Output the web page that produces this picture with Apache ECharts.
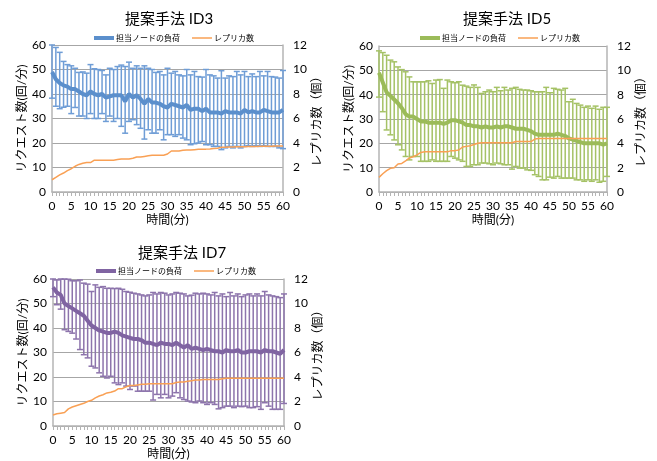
<!DOCTYPE html>
<html>
<head>
<meta charset="utf-8">
<script src="https://cdn.jsdelivr.net/npm/echarts@6/dist/echarts.min.js"></script>
<style>
    html, body { margin: 0; padding: 0; background: #fff; }
    #main { width: 657px; height: 461px; }
</style>
</head>
<body>
<div id="main"></div>
<script type="text/javascript">
    // 時間(分) 0..60
    var minutes = [];
    for (var m = 0; m <= 60; m++) minutes.push(m);

    // ID3
    var load3 = [49,46,44.5,43.5,43,42,42,41,40,39.5, 41,40,39.5,40,38.5,39,39.5,39.5,39.5,37, 40,38.5,39.5,38,36,38,36.5,36.5,36,35, 34.5,36,35.5,35,34.5,35.5,33.5,34,34,33, 34,32.5,32.5,32.5,32,33,32.5,32.5,32.5,32, 33.5,32.5,33,32.5,32.5,33.5,33,32.5,32.5,32.5, 33.5];
    var hi3 = [60,59,57,53.3,52,51.5,50.5,48.8,49,48.5, 52,50.3,50,49.6,47.8,50.5,50,51.2,51.8,51.2, 53,50.5,51.5,50.5,51.5,50.5,50,48.8,49.2,47.8, 50.5,48.5,49.2,47.8,47.4,50,47.8,49.2,47.1,46.9, 50,47.8,47.4,46.5,49.5,46.5,47.4,47.1,49.2,47.8, 49.2,47.1,48.2,47.1,49.2,47.4,49.2,47.1,46.9,46.5, 49.6];
    var lo3 = [38.3,35,34,34.6,35,32,34.5,31,31,30, 32,30,30,32,28.8,31,28.8,30,26.8,24, 28.8,29.5,27.5,26,21.6,25.4,24,24,25.4,21.3, 23.4,23.4,22.7,23.4,22,21.3,19.3,19.7,20,20.6, 19.3,19.3,18.6,18.6,17.3,18,18.6,18,18.6,18, 18.6,18.9,18.6,18.9,18.6,18.9,18.6,18.6,18.6,18, 17.7];
    var rep3 = [1.0,1.2,1.4,1.55,1.75,1.9,2.1,2.25,2.35,2.4, 2.4,2.6,2.6,2.6,2.6,2.6,2.6,2.65,2.7,2.7, 2.7,2.75,2.85,2.85,2.9,2.95,3.0,3.0,3.0,3.0, 3.1,3.35,3.35,3.35,3.4,3.42,3.42,3.45,3.48,3.5, 3.5,3.52,3.55,3.58,3.65,3.66,3.67,3.68,3.7,3.7, 3.7,3.72,3.72,3.72,3.73,3.73,3.74,3.74,3.75,3.75, 3.75];

    // ID5
    var load5 = [49,45,41,39.5,38,36.5,34.5,32,31,31, 30,29,29,28.5,28.5,28.5,28.5,28,28.5,29.5, 29.5,29,28.5,27.5,27.5,27,27,26.5,27,26.5, 26.5,27,26.5,27,27,26.5,26,26,26,25.5, 25,24,23.5,23.5,23.5,23.5,23.5,24,23.5,23, 22,21.5,21,20.5,20,20,20,20,20,19.5, 20];
    var hi5 = [58,57.3,56.2,54.2,53.5,51.4,50.3,49.4,47.3,45.3, 45.3,45.3,45.3,45.7,44.6,46,46.2,42.6,46,45.3, 44.9,45.3,43.9,43.5,43,44,43,40.5,41.2,41.9, 41.2,43,41.6,43,41.9,42.6,43,42.2,41.9,41.9, 41.6,41.2,41.2,41.2,43,40.8,42.6,42.2,41.9,42.6, 37.1,38.1,36.4,35.7,34.8,35.3,34.4,35.3,34,34.8, 34.8];
    var lo5 = [39,33,25.5,23.5,21.4,19.4,17.3,14.6,13.2,14.6, 14.6,12.6,12.6,12.6,13.2,12.6,12.6,12.6,12.6,14.6, 13.9,13.2,12.6,10.5,10.5,11.2,11.2,11.9,11.9,11.6, 11.2,11.9,11.6,11.2,11.2,9.4,10.5,9.8,9.8,9.1, 8.9,7.1,6.4,5,5,6.1,5.7,6.4,5.7,5.7, 5.7,5.7,5,5,4.4,5,4.4,5,4,4.4, 6.4];
    var rep5 = [1.2,1.5,1.75,1.95,2.0,2.3,2.35,2.55,2.8,2.9, 3.05,3.25,3.3,3.3,3.3,3.3,3.3,3.3,3.3,3.4, 3.4,3.45,3.7,3.75,3.8,3.9,4.0,4.05,4.05,4.05, 4.05,4.05,4.05,4.05,4.05,4.05,4.15,4.15,4.15,4.15, 4.15,4.35,4.4,4.4,4.4,4.4,4.4,4.4,4.4,4.4, 4.4,4.4,4.4,4.4,4.4,4.4,4.4,4.4,4.4,4.4, 4.4];

    // ID7
    var load7 = [56.6,54.5,53.5,50,49,48,47,46,45,43, 41,40,39,38.5,38,38,38.5,38,37,36.5, 36,35.5,35.5,35,34,34,33.5,33,34,33.5, 33.5,33,34,33,32,33,31.5,32,31.5,31, 31.5,31,30.5,30.5,30,31,30.5,30.5,31,30, 30,30.5,30.5,30.5,30,31,30.5,30.5,30,29.5, 31];
    var hi7 = [60,59.6,60,60,59.9,59.3,59.3,59.6,58.3,57.9, 54.9,57.6,56.6,56.9,56.2,56.2,56.1,56.2,55.8,54.9, 54.6,54.2,53.9,53.5,53.1,53.5,54.5,53.9,54.5,54.2, 53.5,53.9,54.5,54.2,53.9,53.1,53.4,54.2,53.9,54.2, 53.9,53.5,54.5,53.1,53.9,52.8,54.5,53.1,53.9,52.8, 53.5,53.9,53.1,53.9,53.1,54.9,53.5,53.1,52.8,52.4, 53.9];
    var lo7 = [52.8,49.5,47.7,39.3,38.6,37.9,35.5,31.2,29.1,27.8, 24.4,23.7,21.7,20.3,19.6,20.3,17.6,16.9,17.6,16.3, 14.9,16.3,14.2,14.2,14.2,14.2,10.6,12.9,11.5,12.9, 11.5,12.2,13.6,11.5,10.8,10.2,9.8,9.5,10.2,9.5, 8.8,9.5,8.8,7,7.5,8.1,8.1,7.5,8.1,7.9, 8.1,7.5,7.5,7.9,6.8,9.5,8.1,6.8,6.8,6.8, 9.2];
    var rep7 = [0.9,1.0,1.05,1.1,1.4,1.55,1.65,1.75,1.85,2.0, 2.1,2.3,2.45,2.55,2.7,2.75,2.85,3.05,3.05,3.2, 3.3,3.3,3.35,3.4,3.4,3.45,3.45,3.45,3.45,3.45, 3.45,3.45,3.55,3.6,3.6,3.65,3.7,3.75,3.75,3.8, 3.8,3.8,3.8,3.8,3.85,3.9,3.9,3.9,3.9,3.9, 3.9,3.9,3.9,3.9,3.9,3.9,3.9,3.9,3.9,3.9, 3.9];

    var xTicks = [0,5,10,15,20,25,30,35,40,45,50,55,60];
    var loadName = '担当ノードの負荷';
    var repName = 'レプリカ数';

    var FONT = 'Lato, "Noto Sans CJK JP", sans-serif';
    var GRAY = '#b4b4b4';

    var charts = [
        {title: '提案手法 ID3', load: load3, hi: hi3, lo: lo3, rep: rep3, color: '#5b8fcc', bar: '#6f9dd6',
         grid: {left: 52, top: 45, width: 231, height: 147}, titlePos: [120, 7], legendPos: [89, 29]},
        {title: '提案手法 ID5', load: load5, hi: hi5, lo: lo5, rep: rep5, color: '#9bbb59', bar: '#a5c266',
         grid: {left: 379, top: 46, width: 228, height: 146}, titlePos: [458, 7], legendPos: [415, 29]},
        {title: '提案手法 ID7', load: load7, hi: hi7, lo: lo7, rep: rep7, color: '#8064a2', bar: '#8d74ac',
         grid: {left: 53, top: 279, width: 231, height: 148}, titlePos: [133, 241], legendPos: [91, 262]}
    ];

    function errRender(color) {
        return function (params, api) {
            var x = api.value(0);
            var top = api.coord([x, api.value(2)]);
            var bot = api.coord([x, api.value(1)]);
            var st = {stroke: color, lineWidth: 1.5};
            return {
                type: 'group',
                children: [
                    {type: 'line', shape: {x1: top[0], y1: top[1], x2: bot[0], y2: bot[1]}, style: st},
                    {type: 'line', shape: {x1: top[0] - 3, y1: top[1], x2: top[0] + 3, y2: top[1]}, style: st},
                    {type: 'line', shape: {x1: bot[0] - 3, y1: bot[1], x2: bot[0] + 3, y2: bot[1]}, style: st}
                ]
            };
        };
    }

    var option = {
        backgroundColor: '#fff',
        animation: false,
        textStyle: {fontFamily: FONT},
        title: [], legend: [], grid: [], xAxis: [], yAxis: [], series: []
    };

    charts.forEach(function (c, i) {
        var tag = new Array(i + 1).join('\u200b');
        var ln = loadName + tag, rn = repName + tag;
        option.title.push({
            text: c.title, left: c.titlePos[0], top: c.titlePos[1],
            textStyle: {fontFamily: FONT, fontSize: 15, fontWeight: 'normal', color: '#000'}
        });
        option.legend.push({
            data: [
                {name: ln, icon: 'path://M0,0H20V4H0Z'},
                {name: rn, icon: 'path://M0,0H20V1.5H0Z'}
            ],
            left: c.legendPos[0], top: c.legendPos[1],
            itemWidth: 20, itemHeight: 8, itemGap: 12,
            formatter: function (n) { return n.replace(/\u200b/g, ''); },
            textStyle: {fontFamily: FONT, fontSize: 8, color: '#000', padding: [0, 0, 0, -3]}
        });
        option.grid.push(c.grid);
        option.xAxis.push({
            type: 'value', gridIndex: i, min: 0, max: 60, interval: 5,
            name: '時間(分)', nameLocation: 'middle', nameGap: 22,
            nameTextStyle: {fontFamily: FONT, fontSize: 12, color: '#000'},
            axisLine: {lineStyle: {color: GRAY, width: 1.5}},
            axisTick: {show: true, length: 4, lineStyle: {color: GRAY}},
            minorTick: {show: true, splitNumber: 5, length: 4, lineStyle: {color: GRAY}},
            splitLine: {show: false},
            axisLabel: {fontFamily: FONT, fontSize: 12, color: '#000', margin: 8,
                formatter: function (v) { return xTicks.indexOf(v) >= 0 ? String(v) : ''; }}
        });
        option.yAxis.push({
            type: 'value', gridIndex: i, min: 0, max: 60, interval: 10, position: 'left',
            name: 'リクエスト数(回/分)', nameLocation: 'middle', nameGap: 23,
            nameTextStyle: {fontFamily: FONT, fontSize: 12, color: '#000'},
            axisLine: {show: true, lineStyle: {color: GRAY, width: 1.5}},
            axisTick: {show: false},
            splitLine: {lineStyle: {color: '#a6a6a6', width: 1}},
            axisLabel: {fontFamily: FONT, fontSize: 12, color: '#000', margin: 6}
        });
        option.yAxis.push({
            type: 'value', gridIndex: i, min: 0, max: 12, interval: 2, position: 'right',
            name: 'レプリカ数（個）', nameLocation: 'middle', nameGap: 24,
            nameTextStyle: {fontFamily: FONT, fontSize: 12, color: '#000'},
            axisLine: {show: true, lineStyle: {color: GRAY, width: 1.5}},
            axisTick: {show: false},
            splitLine: {show: false},
            axisLabel: {fontFamily: FONT, fontSize: 12, color: '#000', margin: 10}
        });
        var errData = minutes.map(function (m, k) { return [m, c.lo[k], c.hi[k]]; });
        option.series.push({
            type: 'custom', name: 'err' + i, xAxisIndex: i, yAxisIndex: i * 2,
            renderItem: errRender(c.bar), data: errData, encode: {x: 0, y: [1, 2]}, z: 2
        });
        option.series.push({
            type: 'line', name: ln, xAxisIndex: i, yAxisIndex: i * 2,
            data: minutes.map(function (m, k) { return [m, c.load[k]]; }),
            symbol: 'none', color: c.color, lineStyle: {width: 4, color: c.color}, z: 3
        });
        option.series.push({
            type: 'line', name: rn, xAxisIndex: i, yAxisIndex: i * 2 + 1,
            data: minutes.map(function (m, k) { return [m, c.rep[k]]; }),
            symbol: 'none', color: '#f9a054', lineStyle: {width: 1.5, color: '#f9a054'}, z: 4
        });
    });

    var myChart = echarts.init(document.getElementById('main'));
    myChart.setOption(option);
</script>
</body>
</html>
